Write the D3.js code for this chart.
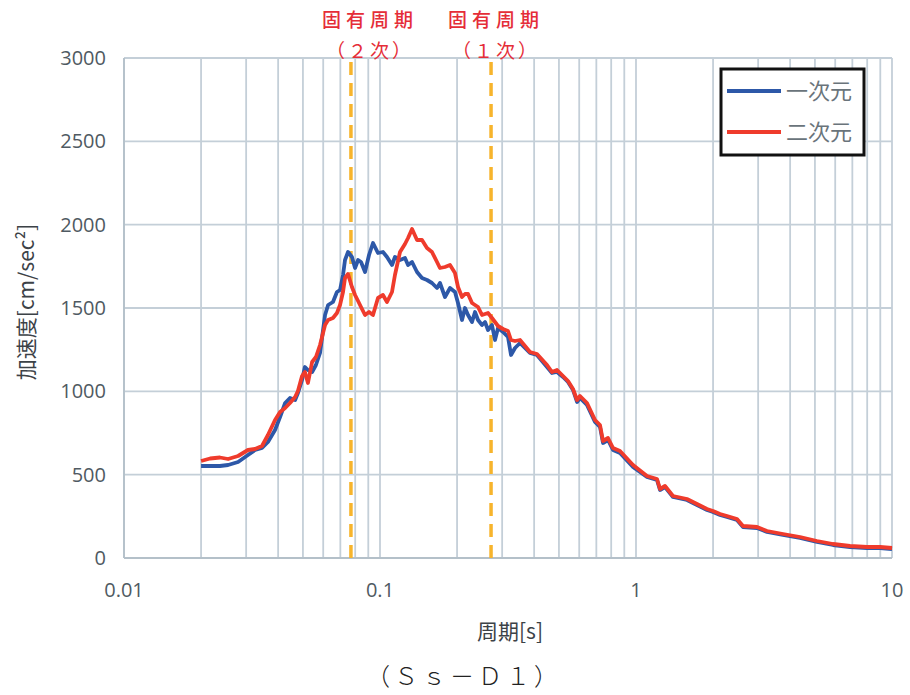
<!DOCTYPE html>
<html><head><meta charset="utf-8">
<script src="https://cdn.jsdelivr.net/npm/d3@7"></script>
<style>body{margin:0;background:#fff}svg{display:block}</style>
</head><body>
<script>
const periods = [0.0200,0.0217,0.0237,0.0255,0.0279,0.0305,0.0325,0.0346,0.0365,0.0389,0.0407,0.0426,0.0445,0.0466,0.0478,0.0496,0.0509,0.0523,0.0543,0.0562,0.0583,0.0610,0.0627,0.0655,0.0679,0.0698,0.0717,0.0730,0.0750,0.0777,0.0799,0.0821,0.0843,0.0874,0.0906,0.0939,0.0982,0.1027,0.1065,0.1114,0.1144,0.1197,0.1252,0.1287,0.1334,0.1395,0.1459,0.1526,0.1596,0.1670,0.1715,0.1794,0.1877,0.1963,0.2017,0.2091,0.2148,0.2207,0.2288,0.2350,0.2415,0.2503,0.2572,0.2642,0.2738,0.2813,0.2891,0.3024,0.3162,0.3249,0.3368,0.3523,0.3854,0.4104,0.4492,0.4698,0.4914,0.5187,0.5425,0.5675,0.5883,0.6043,0.6435,0.6916,0.7234,0.7432,0.7774,0.8132,0.8660,0.9734,1.104,1.208,1.241,1.298,1.395,1.582,1.731,1.894,1.999,2.129,2.267,2.480,2.618,2.970,3.249,3.752,4.372,5.093,5.884,6.854,7.987,8.978,10.0];
const oneD = [552,552,552,558,576,618,648,660,696,768,846,930,960,948,990,1068,1146,1128,1116,1158,1230,1458,1518,1536,1596,1608,1698,1788,1836,1806,1740,1788,1776,1716,1818,1890,1830,1836,1806,1758,1806,1788,1800,1758,1776,1716,1680,1668,1650,1620,1650,1566,1620,1596,1530,1428,1500,1458,1416,1476,1428,1398,1416,1368,1398,1308,1380,1356,1326,1218,1260,1290,1230,1218,1146,1110,1116,1086,1056,1008,936,960,918,816,786,690,708,648,630,546,486,468,408,426,366,348,318,288,276,258,246,228,186,180,156,138,120,96,78,66,60,60,54];
const twoD = [582,597,603,594,612,648,654,672,738,828,876,900,930,966,1002,1092,1116,1050,1176,1206,1278,1398,1428,1440,1470,1518,1596,1680,1704,1626,1578,1542,1506,1458,1476,1458,1560,1578,1536,1596,1698,1836,1884,1920,1974,1908,1908,1860,1836,1776,1740,1746,1758,1710,1626,1566,1584,1584,1530,1518,1506,1458,1464,1470,1440,1416,1392,1374,1362,1308,1302,1308,1236,1224,1158,1116,1128,1092,1062,1014,948,972,930,828,798,702,720,660,642,558,492,474,414,432,372,354,324,294,282,264,252,234,192,186,162,144,126,102,84,72,66,66,60];
const seriesNames = ["一次元","二次元"];
const seriesColors = ["#2d58a8","#ef3b2c"];
const xTicks = [0.01,0.1,1,10];
const xTickLabels = ["0.01","0.1","1","10"];
const yTicks = [0,500,1000,1500,2000,2500,3000];
const naturalPeriods = [0.0770,0.2715];
const naturalLabels = [["固有周期","（２次）"],["固有周期","（１次）"]];

const W=910,H=695;
const svg=d3.select("body").append("svg").attr("width",W).attr("height",H);
const x=d3.scaleLog().domain([0.01,10]).range([124,892]);
const y=d3.scaleLinear().domain([0,3000]).range([558,58]);

const gridColor="#c4cfd8";
const vgrid=[];
for(let e=-2;e<=0;e++){for(let m=1;m<=9;m++){vgrid.push(m*Math.pow(10,e));}}
vgrid.push(10);
svg.append("g").selectAll("line").data(vgrid).join("line")
  .attr("x1",d=>x(d)).attr("x2",d=>x(d)).attr("y1",y(3000)).attr("y2",y(0))
  .attr("stroke",gridColor).attr("stroke-width",1.8);
svg.append("g").selectAll("line").data(yTicks).join("line")
  .attr("x1",x(0.01)).attr("x2",x(10)).attr("y1",d=>y(d)).attr("y2",d=>y(d))
  .attr("stroke",gridColor).attr("stroke-width",1.8);
svg.append("line").attr("x1",x(0.01)).attr("x2",x(0.01)).attr("y1",y(3000)).attr("y2",y(0)).attr("stroke","#b4c0c9").attr("stroke-width",1.8);
svg.append("line").attr("x1",x(0.01)).attr("x2",x(10)).attr("y1",y(0)).attr("y2",y(0)).attr("stroke","#b4c0c9").attr("stroke-width",1.8);

const tickFont="'Open Sans', sans-serif";
svg.append("g").selectAll("text").data(yTicks).join("text")
  .attr("x",106).attr("y",d=>y(d)).attr("dy","0.35em").attr("text-anchor","end")
  .attr("font-family",tickFont).attr("font-size",20).attr("fill","#4f5a62").text(d=>d);
svg.append("g").selectAll("text").data(xTicks).join("text")
  .attr("x",d=>x(d)).attr("y",590).attr("dy","0.35em").attr("text-anchor","middle")
  .attr("font-family",tickFont).attr("font-size",20).attr("fill","#4f5a62").text((d,i)=>xTickLabels[i]);

svg.append("text").attr("transform","translate(27,302) rotate(-90)").attr("text-anchor","middle")
  .attr("dy","0.35em").attr("font-family","'Noto Sans CJK JP', 'Noto Sans', sans-serif").attr("font-size",21)
  .attr("fill","#3c4247").text("加速度[cm/sec²]");
svg.append("text").attr("x",510).attr("y",632).attr("dy","0.35em").attr("text-anchor","middle")
  .attr("font-family","'Noto Sans CJK JP', sans-serif").attr("font-size",21).attr("fill","#3c4247").text("周期[s]");
svg.append("text").attr("x",464).attr("y",677).attr("dy","0.35em").attr("text-anchor","middle")
  .attr("font-family","'Noto Sans CJK JP', serif").attr("font-weight",300).attr("font-size",24).attr("letter-spacing",4)
  .attr("fill","#222").text("（Ｓｓ－Ｄ１）");

svg.append("g").selectAll("line").data(naturalPeriods).join("line")
  .attr("x1",d=>x(d)).attr("x2",d=>x(d)).attr("y1",y(3000)+4).attr("y2",y(0))
  .attr("stroke","#f7b42c").attr("stroke-width",3.5).attr("stroke-dasharray","13,8");
const labOff=[19,5];
naturalPeriods.forEach((p,i)=>{
  const g=svg.append("g").attr("font-family","'Noto Sans CJK JP', sans-serif").attr("fill","#e52d38").attr("text-anchor","middle");
  g.append("text").attr("x",x(p)+labOff[i]).attr("y",20).attr("dy","0.35em").attr("font-size",19).attr("font-weight",500).attr("letter-spacing",5).text(naturalLabels[i][0]);
  g.append("text").attr("x",x(p)+labOff[i]).attr("y",51).attr("dy","0.35em").attr("font-size",19).attr("letter-spacing",3).text(naturalLabels[i][1]);
});

const line=d3.line().x((d,i)=>x(periods[i])).y(d=>y(d));
[oneD,twoD].forEach((s,i)=>{
  svg.append("path").datum(s).attr("d",line).attr("fill","none")
    .attr("stroke",seriesColors[i]).attr("stroke-width",3.8).attr("stroke-linejoin","round");
});

const lg=svg.append("g");
lg.append("rect").attr("x",721).attr("y",69).attr("width",143).attr("height",86)
  .attr("fill","#fff").attr("stroke","#111").attr("stroke-width",3);
seriesNames.forEach((n,i)=>{
  const yy=91+i*41;
  lg.append("line").attr("x1",727).attr("x2",781).attr("y1",yy).attr("y2",yy).attr("stroke",seriesColors[i]).attr("stroke-width",4);
  lg.append("text").attr("x",786).attr("y",yy).attr("dy","0.35em").attr("font-family","'Noto Sans CJK JP', sans-serif")
    .attr("font-size",22).attr("fill","#6a747b").text(n);
});
</script>
</body></html>
